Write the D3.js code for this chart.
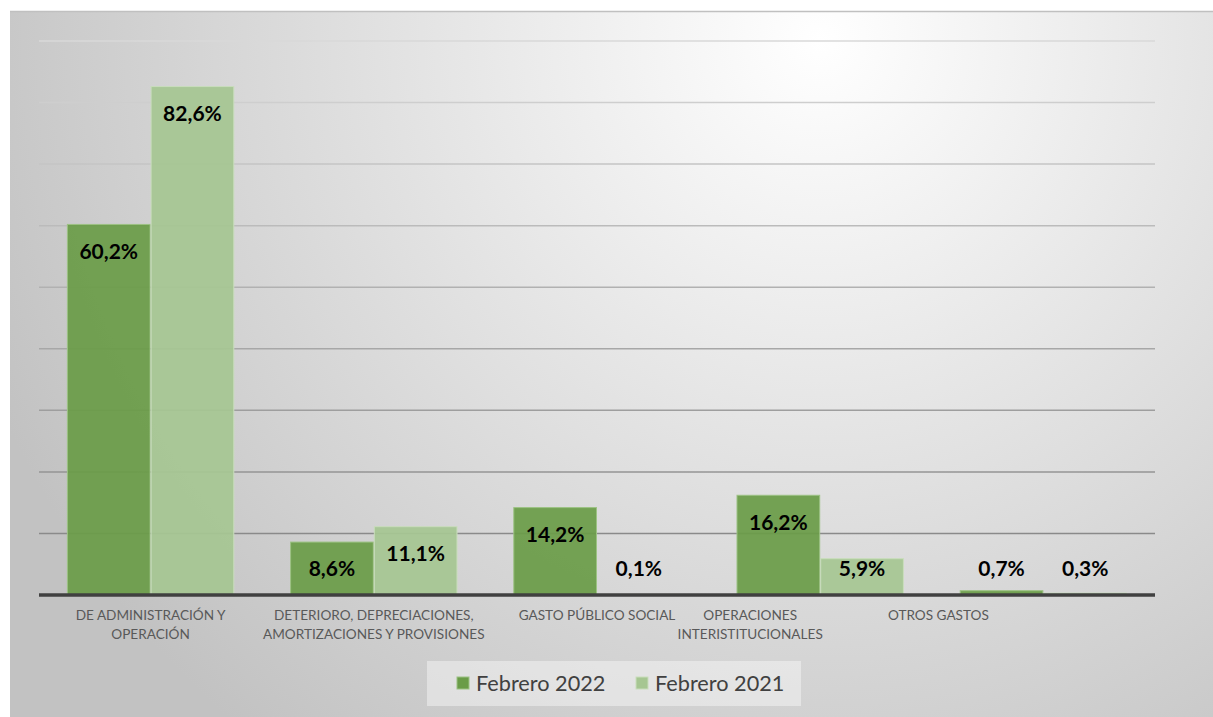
<!DOCTYPE html>
<html>
<head>
<meta charset="utf-8">
<script src="https://cdn.jsdelivr.net/npm/d3@7"></script>
<style>
  body { margin: 0; background: #fff; }
  svg { display: block; font-family: Lato, "Open Sans", sans-serif; }
</style>
</head>
<body>
<svg></svg>
<script>
// data
let categories = ['admin', 'deterioro', 'gasto', 'operaciones', 'otros'];
let tickLabels = [
  ['DE ADMINISTRACIÓN Y', 'OPERACIÓN'],
  ['DETERIORO, DEPRECIACIONES,', 'AMORTIZACIONES Y PROVISIONES'],
  ['GASTO PÚBLICO SOCIAL'],
  ['OPERACIONES', 'INTERISTITUCIONALES'],
  ['OTROS GASTOS']
];
let seriesNames = ['Febrero 2022', 'Febrero 2021'];
let feb2022 = [60.2, 8.6, 14.2, 16.2, 0.7];
let feb2021 = [82.6, 11.1, 0.1, 5.9, 0.3];
let yTicks = [0, 10, 20, 30, 40, 50, 60, 70, 80, 90];

let width = 1213;
let height = 717;
let colors = ['#6a9c48', '#a6c692'];

let svg = d3.select('svg')
  .attr('width', width)
  .attr('height', height);

// background gradient like the office chart style
let defs = svg.append('defs');
let grad = defs.append('radialGradient')
  .attr('id', 'bg')
  .attr('gradientUnits', 'userSpaceOnUse')
  .attr('cx', 820).attr('cy', 40).attr('r', 900);
grad.append('stop').attr('offset', '0%').attr('stop-color', '#ffffff');
grad.append('stop').attr('offset', '100%').attr('stop-color', '#c2c2c2');

svg.append('rect')
  .attr('x', 10).attr('y', 11)
  .attr('width', width - 10).attr('height', height - 11)
  .attr('fill', 'url(#bg)');

svg.append('line')
  .attr('x1', 10).attr('x2', width)
  .attr('y1', 11.5).attr('y2', 11.5)
  .attr('stroke', '#c0c0c0').attr('stroke-width', 1.5);

let x = d3.scaleBand()
  .domain(categories)
  .range([39, 1155])
  .paddingInner(0.25)
  .paddingOuter(0.125);

let xInner = d3.scaleBand()
  .domain(seriesNames)
  .range([0, x.bandwidth()]);

let y = d3.scaleLinear()
  .domain([0, 90])
  .range([595, 41]);

let gridColor = d3.scaleLinear()
  .domain([90, 10])
  .range(['#d8d8d8', '#8a8a8a']);

// gridlines
svg.append('g')
  .selectAll('line')
  .data(yTicks.filter(d => d > 0))
  .enter()
  .append('line')
    .attr('x1', 39).attr('x2', 1155)
    .attr('y1', d => y(d)).attr('y2', d => y(d))
    .attr('stroke', d => gridColor(d))
    .attr('stroke-width', 1.5);

let rows = categories.map((c, i) => ({
  category: c,
  values: [feb2022[i], feb2021[i]]
}));

let locale = d3.formatLocale({ decimal: ',', thousands: '.', grouping: [3], currency: ['', ''] });
let fmt = v => locale.format('.1f')(v) + '%';

let groups = svg.append('g')
  .selectAll('g')
  .data(rows)
  .enter()
  .append('g')
    .attr('transform', d => `translate(${x(d.category)},0)`);

let bars = groups.selectAll('g')
  .data(d => d.values.map((v, i) => ({ series: seriesNames[i], value: v, idx: i })))
  .enter()
  .append('g');

bars.append('rect')
  .attr('x', d => xInner(d.series) + 0.5)
  .attr('width', xInner.bandwidth() - 1)
  .attr('y', d => y(d.value))
  .attr('height', d => y(0) - y(d.value))
  .attr('fill', d => colors[d.idx])
  .attr('fill-opacity', 0.93)
  .attr('stroke', d => d.idx === 0 ? '#9cc283' : '#c9ddbc')
  .attr('stroke-width', 1);

bars.append('text')
  .attr('x', d => xInner(d.series) + xInner.bandwidth() / 2)
  .attr('y', d => Math.min(y(d.value) + 27, y(0) - 26))
  .attr('dy', '0.35em')
  .attr('text-anchor', 'middle')
  .style('font-size', '21px')
  .style('font-weight', 'bold')
  .attr('fill', '#000')
  .text(d => fmt(d.value));

// baseline
svg.append('line')
  .attr('x1', 39).attr('x2', 1155)
  .attr('y1', y(0)).attr('y2', y(0))
  .attr('stroke', '#404040').attr('stroke-width', 3.5);

// category labels (last two sit left of their group, like the original)
let labelShift = [0, 0, 0, -70, -105];
let labels = svg.append('g')
  .selectAll('text')
  .data(categories)
  .enter()
  .append('text')
    .attr('text-anchor', 'middle')
    .attr('x', (d, i) => x(d) + x.bandwidth() / 2 + labelShift[i])
    .attr('y', 620)
    .attr('fill', '#595959')
    .style('font-size', '13.6px');

labels.selectAll('tspan')
  .data((d, i) => tickLabels[i])
  .enter()
  .append('tspan')
    .attr('x', function() { return d3.select(this.parentNode).attr('x'); })
    .attr('dy', (d, i) => i === 0 ? 0 : 19)
    .text(d => d);

// legend
let legend = svg.append('g');
legend.append('rect')
  .attr('x', 427).attr('y', 661)
  .attr('width', 374).attr('height', 45)
  .attr('fill', '#ffffff').attr('fill-opacity', 0.4);

let legendX = [457, 636];
let items = legend.selectAll('g')
  .data(seriesNames)
  .enter()
  .append('g')
    .attr('transform', (d, i) => `translate(${legendX[i]},677)`);

items.append('rect')
  .attr('width', 12).attr('height', 12)
  .attr('fill', (d, i) => colors[i])
  .attr('stroke', (d, i) => i === 0 ? '#9cc283' : '#c9ddbc');

items.append('text')
  .attr('x', 19).attr('y', 6)
  .attr('dy', '0.36em')
  .attr('fill', '#404040')
  .style('font-size', '21.7px')
  .text(d => d);
</script>
</body>
</html>
